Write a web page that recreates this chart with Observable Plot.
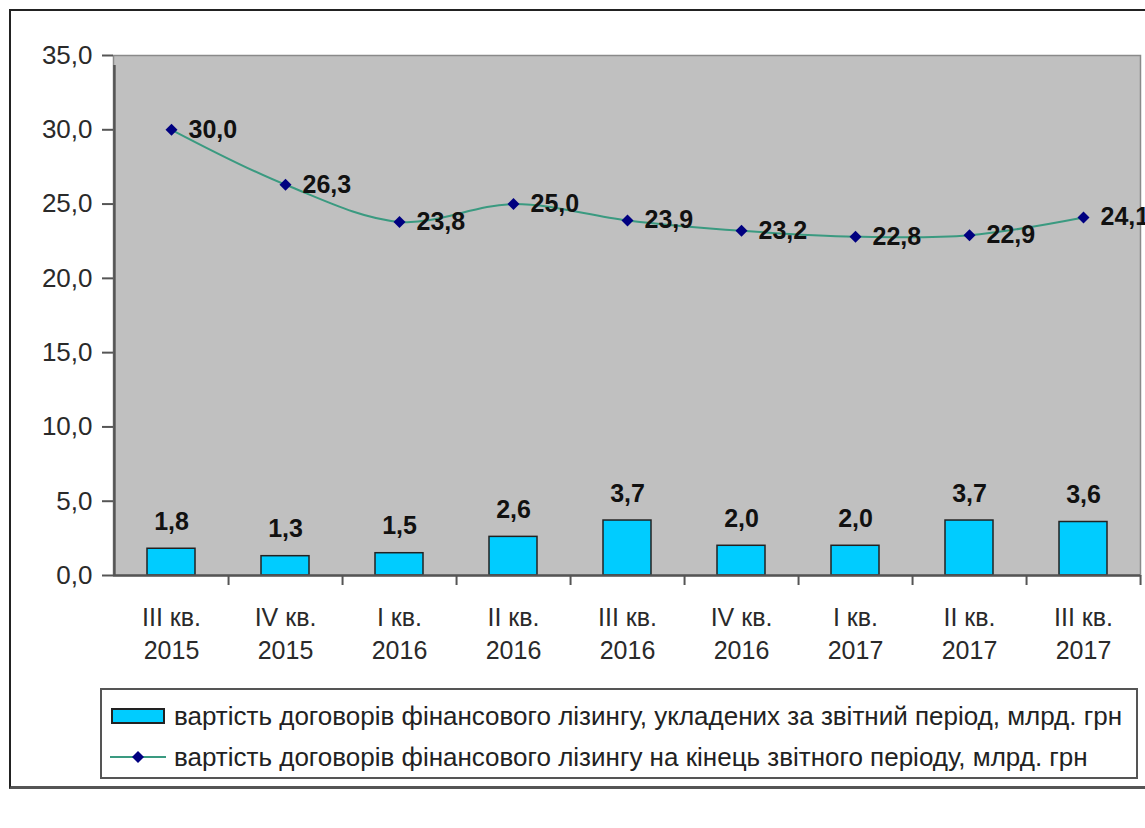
<!DOCTYPE html>
<html>
<head>
<meta charset="utf-8">
<script src="https://cdn.jsdelivr.net/npm/d3@7"></script>
<script src="https://cdn.jsdelivr.net/npm/@observablehq/plot@0.6"></script>
<style>
  body { margin: 0; background: #fff; width: 1145px; height: 828px; overflow: hidden; position: relative;
         font-family: Arial, "Liberation Sans", sans-serif; }
  #frame { position: absolute; left: 9px; top: 9px; width: 1160px; height: 775px;
           border-left: 2px solid #222; border-top: 2px solid #222; border-bottom: 3px solid #555; }
  #chart { position: absolute; left: 0; top: 0; }
  #legend { position: absolute; left: 100px; top: 688px; width: 1038px; height: 91px; box-sizing: border-box;
            border: 2px solid #555; background: #fff; }
  .row { position: absolute; left: 8px; height: 30px; display: flex; align-items: center;
         font-size: 26px; color: #222; white-space: nowrap; }
  .row .sw { width: 56px; height: 16px; margin-right: 8px; flex: none; }
</style>
</head>
<body>
<div id="frame"></div>
<div id="chart"></div>
<div id="legend">
  <div class="row" style="top:11px"><svg class="sw" width="56" height="16"><rect x="2" y="1" width="52" height="14" fill="#00ccff" stroke="#222" stroke-width="2"/></svg><span id="l1"></span></div>
  <div class="row" style="top:52px"><svg class="sw" width="56" height="16"><line x1="0" y1="8" x2="56" y2="8" stroke="#3a9a80" stroke-width="2"/><path d="M28,2L34,8L28,14L22,8Z" fill="#000080"/></svg><span id="l2"></span></div>
</div>
<script>
const quarters = ["III кв.\n2015", "IV кв.\n2015", "I кв.\n2016", "II кв.\n2016", "III кв.\n2016",
                  "IV кв.\n2016", "I кв.\n2017", "II кв.\n2017", "III кв.\n2017"];
const newContracts = [1.8, 1.3, 1.5, 2.6, 3.7, 2.0, 2.0, 3.7, 3.6];
const endOfPeriod = [30.0, 26.3, 23.8, 25.0, 23.9, 23.2, 22.8, 22.9, 24.1];
const yTicks = [0, 5, 10, 15, 20, 25, 30, 35];
const seriesNames = [
  "вартість договорів фінансового лізингу, укладених за звітний період, млрд. грн",
  "вартість договорів фінансового лізингу на кінець звітного періоду, млрд. грн"
];

document.getElementById("l1").textContent = seriesNames[0];
document.getElementById("l2").textContent = seriesNames[1];

const rows = quarters.map((q, i) => ({q, bar: newContracts[i], end: endOfPeriod[i]}));
const fmt = d => d.toFixed(1).replace(".", ",");
const half = 1027 / 9 / 2;

const chart = Plot.plot({
  width: 1145,
  height: 690,
  marginTop: 55,
  marginBottom: 115,
  marginLeft: 113,
  marginRight: 5,
  style: {fontFamily: "Arial, 'Liberation Sans', sans-serif", fontSize: "24px", background: "transparent", color: "#222"},
  x: {domain: quarters, paddingInner: 0.58, paddingOuter: 0.29, axis: null, label: null},
  y: {domain: [0, 35], axis: null, label: null},
  marks: [
    Plot.frame({fill: "#c0c0c0", stroke: "#8a8a8a", strokeWidth: 1.5}),
    Plot.barY(rows, {x: "q", y: "bar", fill: "#00ccff", stroke: "#222", strokeWidth: 1.5}),
    Plot.ruleY([0], {stroke: "#555", strokeWidth: 2.5}),
    Plot.ruleX([quarters[0]], {x: d => d, dx: -half, y1: 0, y2: 35, insetBottom: -10, stroke: "#555", strokeWidth: 2.5}),
    Plot.ruleX(quarters, {x: d => d, dx: half, y1: 0, y2: 0, insetBottom: -10, stroke: "#555", strokeWidth: 2}),
    Plot.axisY({ticks: yTicks, tickFormat: fmt, tickSize: 11, tickPadding: 10, stroke: "#555", strokeWidth: 2,
                fill: "#2a2a2a", fontSize: 26, label: null}),
    Plot.axisX({tickSize: 0, tickPadding: 27, lineHeight: 1.33, fill: "#2a2a2a", fontSize: 25, tickFormat: d => d, label: null}),
    Plot.line(rows, {x: "q", y: "end", curve: "catmull-rom", stroke: "#3a9a80", strokeWidth: 2}),
    Plot.dot(rows, {x: "q", y: "end", symbol: "diamond2", r: 5.4, fill: "#000080"}),
    Plot.text(rows, {x: "q", y: "end", text: d => fmt(d.end), dx: 17, textAnchor: "start",
                     fontWeight: "bold", fontSize: 25, fill: "#111"}),
    Plot.text(rows, {x: "q", y: "bar", text: d => fmt(d.bar), dy: -27,
                     fontWeight: "bold", fontSize: 25, fill: "#111"})
  ]
});
document.getElementById("chart").appendChild(chart);
</script>
</body>
</html>
